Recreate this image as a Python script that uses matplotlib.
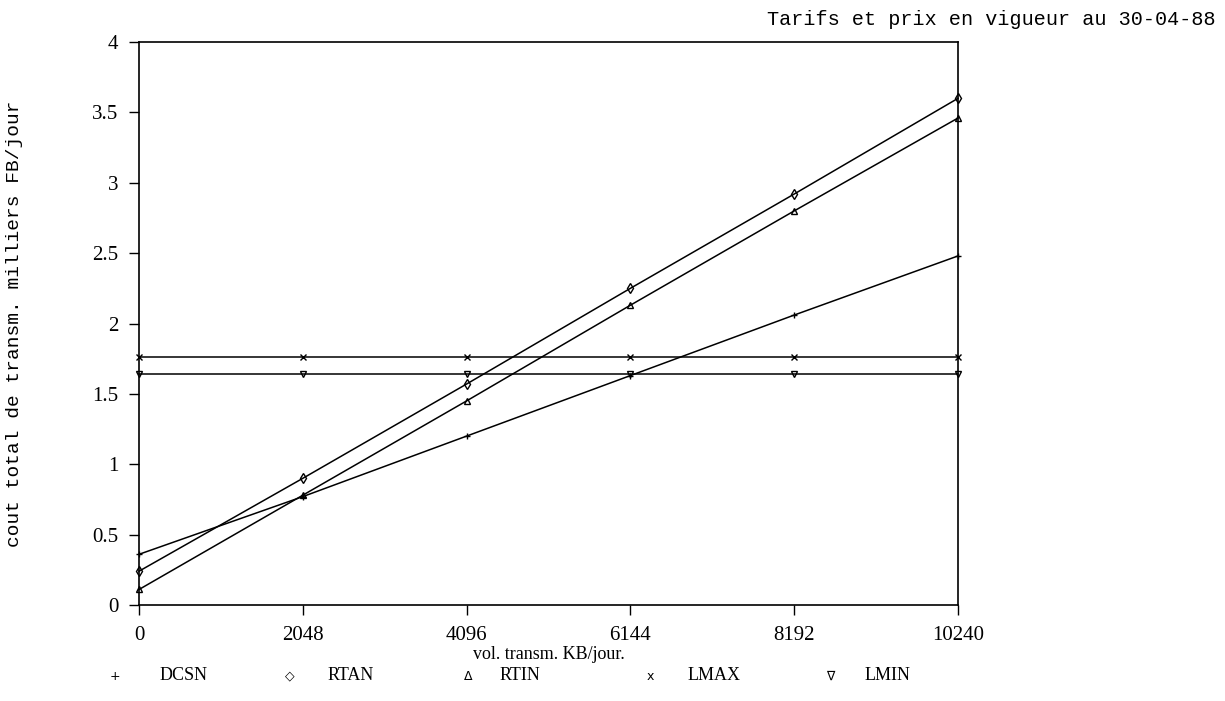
import matplotlib
matplotlib.use('Agg')
import matplotlib.pyplot as plt

# === Cout total de transmission vs volume transmis (tarifs 30-04-88) ===

volume = [0, 2048, 4096, 6144, 8192, 10240]

dcsn = [0.36, 0.77, 1.20, 1.63, 2.06, 2.48]
rtan = [0.24, 0.90, 1.57, 2.25, 2.92, 3.60]
rtin = [0.11, 0.78, 1.45, 2.13, 2.80, 3.46]
lmax = [1.76, 1.76, 1.76, 1.76, 1.76, 1.76]
lmin = [1.64, 1.64, 1.64, 1.64, 1.64, 1.64]

series_names = ['DCSN', 'RTAN', 'RTIN', 'LMAX', 'LMIN']
series_markers = ['+', 'd', '^', 'x', 'v']
legend_symbols = ['+', '\u25c7', '\u0394', 'x', '\u2207']

y_ticks = [0, 0.5, 1, 1.5, 2, 2.5, 3, 3.5, 4]
y_tick_labels = ['0', '0.5', '1', '1.5', '2', '2.5', '3', '3.5', '4']

mono = 'Liberation Mono'
serif = 'Liberation Serif'

fig = plt.figure(figsize=(12.25, 7.01), dpi=100)
ax = fig.add_axes([0.1135, 0.137, 0.6685, 0.803])

for values, marker in zip([dcsn, rtan, rtin, lmax, lmin], series_markers):
    ax.plot(volume, values, color='black', lw=1.1, marker=marker,
            markersize=5, markerfacecolor='none', markeredgewidth=1.0,
            clip_on=False)

ax.set_xlim(0, 10240)
ax.set_ylim(0, 4)
ax.set_xticks(volume)
ax.set_xticklabels([str(v) for v in volume], fontfamily=serif, fontsize=15)
ax.set_yticks(y_ticks)
ax.set_yticklabels(y_tick_labels, fontfamily=serif, fontsize=15)
ax.tick_params(axis='both', direction='out', length=7, width=1, color='black', pad=8)

for sp in ax.spines.values():
    sp.set_color('black')
    sp.set_linewidth(1.2)

ax.set_xlabel('vol. transm. KB/jour.', fontfamily=serif, fontsize=13, labelpad=1)
ax.set_ylabel('cout total de transm. milliers FB/jour', fontfamily=mono,
              fontsize=14, labelpad=50)

fig.text(0.992, 0.965, 'Tarifs et prix en vigueur au 30-04-88',
         ha='right', va='baseline', fontfamily=mono, fontsize=14.5)

# legend row under the x label: symbol, then name
sym_x = [115, 290, 468, 650, 830]
name_x = [160, 328, 500, 688, 865]
for sym, name, sx, nx in zip(legend_symbols, series_names, sym_x, name_x):
    fig.text(sx / 1225, 1 - 676 / 701, sym, ha='center', va='center',
             fontfamily='DejaVu Sans', fontsize=9)
    fig.text(nx / 1225, 1 - 676 / 701, name, ha='left', va='center',
             fontfamily=serif, fontsize=13)

fig.savefig('out.png', dpi=100)
